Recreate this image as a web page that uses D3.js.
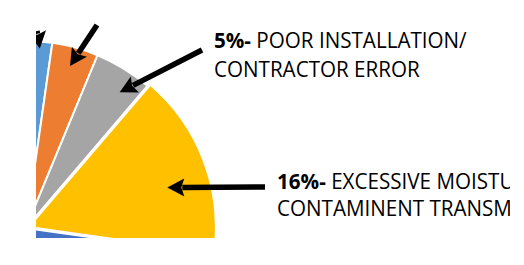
<!DOCTYPE html>
<html>
<head>
<meta charset="utf-8">
<script src="https://cdn.jsdelivr.net/npm/d3@7"></script>
<style>
  html, body { margin: 0; padding: 0; background: #fff; }
  svg { display: block; }
</style>
</head>
<body>
<svg id="chart"></svg>
<script>
// slice data, clockwise from the light blue slice
// (only part of the pie is in frame, the labels of the first, second and last slice are off-frame)
const sliceNames = ["Blue slice", "Orange slice", "POOR INSTALLATION/ CONTRACTOR ERROR", "EXCESSIVE MOISTURE/ CONTAMINENT TRANSMISSION", "Dark blue slice"];
const sliceValues = [7, 4, 5, 16, 68];
const sliceColors = ["#5B9BD5", "#ED7D31", "#A5A5A5", "#FFC000", "#4472C4"];
const labelPct = ["", "", "5%", "16%", ""];
const labelLine1 = ["", "", "POOR INSTALLATION/", "EXCESSIVE MOISTURE/", ""];
const labelLine2 = ["", "", "CONTRACTOR ERROR", "CONTAMINENT TRANSMISSION", ""];

const width = 524;
const height = 265;

const svg = d3.select("#chart")
  .attr("width", width)
  .attr("height", height);

// the picture is a crop of a bigger chart
svg.append("clipPath").attr("id", "frame")
  .append("rect")
  .attr("x", 36).attr("y", 0)
  .attr("width", 474).attr("height", 238);

const g = svg.append("g").attr("clip-path", "url(#frame)");

// pie geometry
const cx = 26, cy = 228, radius = 187;
const rad = deg => deg * Math.PI / 180;

const pie = d3.pie()
  .sort(null)
  .value(d => d)
  .startAngle(rad(-17.1))
  .endAngle(rad(-17.1 + 360));

const arcs = pie(sliceValues);
const arc = d3.arc().innerRadius(0).outerRadius(radius);

const pieG = g.append("g").attr("transform", `translate(${cx},${cy})`);

pieG.selectAll("path")
  .data(arcs)
  .enter().append("path")
  .attr("d", arc)
  .attr("fill", (d, i) => sliceColors[i])
  .attr("stroke", "#fff")
  .attr("stroke-width", 2)
  .attr("transform", (d, i) => {
    // yellow slice is pulled out a little
    if (i !== 3) return null;
    const mid = (d.startAngle + d.endAngle) / 2;
    return `translate(${Math.sin(mid) * 3},${-Math.cos(mid) * 3})`;
  });

// arrow annotations: tip at (angle, radius) on the pie, tail near the label
const arrows = [
  { slice: 0, tipAngle: 4.4, tipR: 180, tail: [37, 31] },
  { slice: 1, tipAngle: 15.2, tipR: 168, tail: [97, 25] },
  { slice: 2, tipAngle: 34.6, tipR: 165, tail: [202, 50] },
  { slice: 3, tipAngle: 74, tipR: 147, tail: [265, 187] }
];

const headLen = 17, headHalf = 9;

arrows.forEach(a => {
  const tx = cx + Math.sin(rad(a.tipAngle)) * a.tipR;
  const ty = cy - Math.cos(rad(a.tipAngle)) * a.tipR;
  const [sx, sy] = a.tail;
  const len = Math.hypot(tx - sx, ty - sy);
  const ux = (tx - sx) / len, uy = (ty - sy) / len;
  const bx = tx - ux * headLen, by = ty - uy * headLen;

  g.append("line")
    .attr("x1", sx).attr("y1", sy)
    .attr("x2", bx + ux * 2).attr("y2", by + uy * 2)
    .attr("stroke", "#000")
    .attr("stroke-width", 5.5);

  g.append("path")
    .attr("d", d3.line()([
      [tx, ty],
      [bx - uy * headHalf, by + ux * headHalf],
      [bx + ux * 3, by + uy * 3],
      [bx + uy * headHalf, by - ux * headHalf]
    ]) + "Z")
    .attr("fill", "#000");
});

// text labels
const labelPos = [null, null, [214, 48, 77], [277, 189, 216]];
const fontSize = 21;

const labels = g.append("g")
  .attr("font-family", "'Open Sans', 'DejaVu Sans', sans-serif")
  .attr("font-size", fontSize)
  .attr("fill", "#000");

labelPos.forEach((p, i) => {
  if (!p) return;
  const lg = labels.append("g").attr("transform", `translate(${p[0]},0)`);
  const t1 = lg.append("text").attr("y", p[1]);
  t1.append("tspan").attr("font-weight", "bold").text(labelPct[i] + "-");
  t1.append("tspan").text(" " + labelLine1[i]);
  lg.append("text").attr("y", p[2]).text(labelLine2[i]);
});

// squeeze text to match the narrow original face
const probe = labels.append("text").text(labelLine2[2]);
const sxScale = 206 / probe.node().getComputedTextLength();
probe.remove();
labels.selectAll("g").attr("transform", function() {
  const tr = d3.select(this).attr("transform");
  return tr + ` scale(${sxScale},1)`;
});
</script>
</body>
</html>
